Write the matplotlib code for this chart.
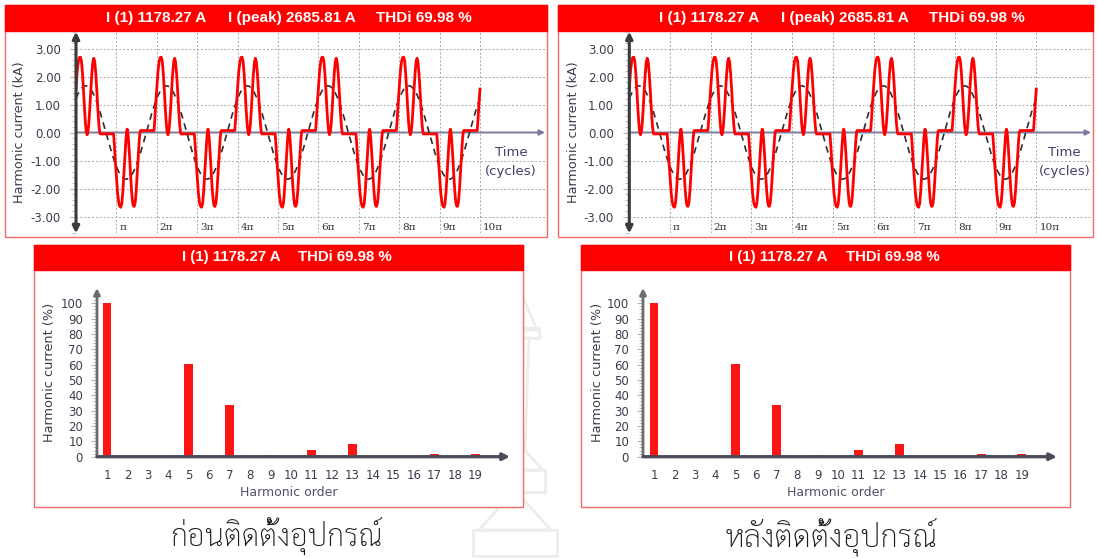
import numpy as np
import matplotlib
matplotlib.use("Agg")
import matplotlib.pyplot as plt
from matplotlib.patches import Rectangle, Polygon
from matplotlib.ticker import MultipleLocator, FixedLocator
from matplotlib import font_manager
from matplotlib.ft2font import FT2Font

# ---- measured values -------------------------------------------------------
I1_A = 1178.27          # fundamental RMS current (A)
IPEAK_A = 2685.81       # peak current (A)
THDI_PCT = 69.98        # total harmonic distortion of current (%)

# one cycle of the measured current waveform: phase (in units of pi) and kA
CYCLE_PHASE = [0.000, 0.030, 0.060, 0.085, 0.111, 0.135, 0.160, 0.185, 0.210,
               0.235, 0.255, 0.276, 0.297, 0.317, 0.342, 0.367, 0.392, 0.417,
               0.441, 0.465, 0.490, 0.515, 0.540, 0.565, 0.585, 0.598, 0.930,
               0.950, 0.975, 1.000, 1.030, 1.060, 1.085, 1.110, 1.135, 1.160,
               1.185, 1.210, 1.235, 1.255, 1.267, 1.280, 1.300, 1.325, 1.350,
               1.375, 1.400, 1.420, 1.440, 1.465, 1.490, 1.515, 1.540, 1.565,
               1.585, 1.598, 1.930, 1.950, 1.975]
CYCLE_KA = [1.55, 2.20, 2.55, 2.68, 2.69, 2.55, 2.12, 1.53, 0.86,
            0.31, 0.03, -0.08, 0.03, 0.31, 0.86, 1.52, 2.10, 2.52,
            2.65, 2.52, 2.10, 1.52, 0.86, 0.31, 0.03, -0.05, -0.05,
            -0.45, -1.05, -1.55, -2.18, -2.52, -2.64, -2.67, -2.53, -2.10,
            -1.50, -0.84, -0.28, 0.05, 0.12, 0.05, -0.28, -0.84, -1.50,
            -2.08, -2.48, -2.62, -2.64, -2.50, -2.08, -1.48, -0.82, -0.28,
            0.02, 0.07, 0.07, 0.45, 1.05]
N_CYCLES = 5
FUND_PHASE = 0.24       # phase of the fundamental's crest (units of pi)

Y_TICKS_KA = [-3, -2, -1, 0, 1, 2, 3]
PI_LABELS = ["\u03c0", "2\u03c0", "3\u03c0", "4\u03c0", "5\u03c0",
             "6\u03c0", "7\u03c0", "8\u03c0", "9\u03c0", "10\u03c0"]

# harmonic spectrum (% of fundamental)
ORDERS = list(range(1, 20))
HARM_PCT = [100, 0, 0.5, 0, 60.7, 0, 33.4, 0, 1.1, 0,
            4.4, 0, 8.3, 0, 0.6, 0, 1.5, 0, 2.0]

CAPTIONS = ["ก่อนติดตั้งอุปกรณ์", "หลังติดตั้งอุปกรณ์"]

# ---- fonts -----------------------------------------------------------------
def font_with_char(ch):
    names = []
    for f in font_manager.fontManager.ttflist:
        try:
            if ord(ch) in FT2Font(f.fname).get_charmap():
                names.append(f.name)
        except Exception:
            pass
    return sorted(set(names))

thai_fonts = font_with_char("ก")
THAI_PREF = ["Sarabun", "TH Sarabun New", "Noto Sans Thai Looped", "Loma",
             "Garuda", "Tlwg Typo"]
thai_name = next((n for n in THAI_PREF if n in thai_fonts),
                 thai_fonts[0] if thai_fonts else "DejaVu Sans")
THAI_FAMILY = [thai_name, "DejaVu Sans"]

plt.rcParams["font.family"] = ["DejaVu Sans"]

RED = "#ff0000"
BORDER = "#f26a6a"
TXT = "#3c3c4c"
GRID = "#a8a8a8"

W, H = 1098, 559
fig = plt.figure(figsize=(W / 100, H / 100), dpi=100)
bg = fig.add_axes([0, 0, 1, 1])
bg.set_xlim(0, W)
bg.set_ylim(H, 0)
bg.axis("off")


def px_axes(x0, y0, x1, y1):
    a = fig.add_axes([x0 / W, 1 - y1 / H, (x1 - x0) / W, (y1 - y0) / H])
    a.patch.set_alpha(0)
    for s in a.spines.values():
        s.set_visible(False)
    return a


def panel_frame(x0, y0, x1, y1, head_h, pieces, head_y, size):
    bg.add_patch(Rectangle((x0, y0), x1 - x0, y1 - y0, facecolor="white",
                           edgecolor=BORDER, lw=1.0, zorder=1))
    bg.add_patch(Rectangle((x0, y0), x1 - x0, head_h, facecolor=RED,
                           edgecolor=RED, lw=1.0, zorder=2))
    for cx, s in pieces:
        bg.text(cx, head_y, s, ha="center", va="center", color="white",
                fontsize=size, fontweight="bold", family="Liberation Sans",
                zorder=3)


def wave_panel(box, axis_x, px_pi, right_x, pieces, ylab_x):
    x0, y0, x1, y1 = box
    panel_frame(x0, y0, x1, y1, 25.5, pieces, 18, 11)
    ax = px_axes(axis_x, 31.7, right_x, 233.3)
    ax.set_xlim(0, (right_x - axis_x) / px_pi)
    ax.set_ylim(-3.6, 3.6)
    for k in range(1, 11):
        ax.axvline(k, color=GRID, lw=0.7, ls=(0, (2, 2)), zorder=1)
    for v in Y_TICKS_KA:
        if v != 0:
            ax.axhline(v, color=GRID, lw=0.7, ls=(0, (2, 2)), zorder=1)
    ax.set_xticks([])
    ax.set_yticks(Y_TICKS_KA)
    ax.set_yticklabels([f"{v:.2f}" for v in Y_TICKS_KA])
    ax.yaxis.set_minor_locator(MultipleLocator(0.2))
    ax.tick_params(axis="y", which="both", direction="out", color="#b4b4b4",
                   labelcolor=TXT, labelsize=8.5, pad=7)
    ax.tick_params(axis="y", which="major", length=4)
    ax.tick_params(axis="y", which="minor", length=3)

    # axes with arrows
    ax.annotate("", xy=(1.0, 0), xytext=(0, 0),
                xycoords=("axes fraction", "data"),
                textcoords=("axes fraction", "data"),
                arrowprops=dict(arrowstyle="-|>", color="#7a7a9c", lw=1.4,
                                mutation_scale=8, shrinkA=0, shrinkB=0),
                zorder=2)
    ax.annotate("", xy=(0, 1), xytext=(0, 0), xycoords="axes fraction",
                arrowprops=dict(arrowstyle="<|-|>", color="#3a3a3a", lw=2.2,
                                mutation_scale=10, shrinkA=0, shrinkB=0),
                zorder=5)

    # waveform: measured cycle repeated over the record
    ph = np.array(CYCLE_PHASE)
    xs = np.concatenate([ph + 2 * k for k in range(N_CYCLES)] + [[2.0 * N_CYCLES]])
    ys = np.concatenate([CYCLE_KA] * N_CYCLES + [[CYCLE_KA[0]]])
    # fundamental component, crest = sqrt(2) * I(1)
    xf = np.linspace(0, 2.0 * N_CYCLES, 1001)
    yf = np.sqrt(2) * I1_A / 1000 * np.cos(np.pi * (xf - FUND_PHASE))
    ax.plot(xf, yf, color="#2e2e2e", lw=1.2, dashes=(4, 3), zorder=3)
    ax.plot(xs, ys, color="#ff0000", lw=2.0, zorder=4, solid_joinstyle="round")

    for k, lab in enumerate(PI_LABELS, start=1):
        ax.text(k + 3 / px_pi, -3.38, lab, ha="left", va="center",
                family="DejaVu Serif", fontsize=7.5, color="#303030")
    tx = (511 - 76) / px_pi
    ax.text(tx, -0.73, "Time", ha="center", va="center", fontsize=9.5,
            color="#40406a")
    ax.text(tx, -1.41, "(cycles)", ha="center", va="center", fontsize=9.5,
            color="#40406a")
    bg.text(ylab_x, 132.5, "Harmonic current (kA)", rotation=90, ha="center",
            va="center", fontsize=9.2, color=TXT, zorder=3)


def spectrum_panel(box, axis_x, cat1_x, spacing, tip_x, pieces, ylab_x, xlab_x):
    x0, y0, x1, y1 = box
    panel_frame(x0, y0, x1, y1, 24.5, pieces, 257, 10.8)
    ax = px_axes(axis_x, 288, tip_x, 456.7)
    ax.set_xlim(1 - (cat1_x - axis_x) / spacing, 1 + (tip_x - cat1_x) / spacing)
    ax.set_ylim(0, 110)
    ax.bar(ORDERS, HARM_PCT, width=0.44, color="#ff1414", zorder=3)
    ax.set_yticks(range(0, 101, 10))
    ax.yaxis.set_minor_locator(FixedLocator(np.arange(0, 105, 2)))
    ax.set_xticks(ORDERS)
    ax.set_xticklabels([str(o) for o in ORDERS])
    ax.tick_params(axis="x", length=0, pad=9, labelsize=8.5, labelcolor=TXT)
    ax.tick_params(axis="y", which="both", direction="out", color="#b4b4b4",
                   labelcolor=TXT, labelsize=8.5, pad=6)
    ax.tick_params(axis="y", which="major", length=4)
    ax.tick_params(axis="y", which="minor", length=3)
    ax.annotate("", xy=(0, 1), xytext=(0, 0), xycoords="axes fraction",
                arrowprops=dict(arrowstyle="-|>", color="#6c6c6c", lw=2.0,
                                mutation_scale=9, shrinkA=0, shrinkB=0),
                zorder=5)
    ax.annotate("", xy=(1, 0), xytext=(0, 0), xycoords="axes fraction",
                arrowprops=dict(arrowstyle="-|>", color="#4c4c5c", lw=2.4,
                                mutation_scale=10, shrinkA=0, shrinkB=0),
                zorder=5)
    bg.text(ylab_x, 372, "Harmonic current (%)", rotation=90, ha="center",
            va="center", fontsize=9.3, color=TXT, zorder=3)
    bg.text(xlab_x, 492, "Harmonic order", ha="center", va="center",
            fontsize=9, color="#50506a", zorder=3)


# faint emblem watermark between the lower panels
def emblem(cx):
    col = "#ededed"
    kw = dict(facecolor="none", edgecolor=col, lw=2.0, zorder=0.5)
    bg.add_patch(Polygon([[cx - 22, 330], [cx, 278], [cx + 22, 330]], closed=True, **kw))
    bg.add_patch(Rectangle((cx - 24, 328), 48, 10, **kw))
    bg.add_patch(Polygon([[cx - 14, 338], [cx - 10, 450], [cx + 10, 450], [cx + 14, 338]], closed=True, **kw))
    bg.add_patch(Polygon([[cx - 28, 470], [cx, 440], [cx + 28, 470]], closed=True, **kw))
    bg.add_patch(Rectangle((cx - 30, 470), 60, 22, **kw))
    bg.add_patch(Polygon([[cx - 36, 530], [cx, 490], [cx + 36, 530]], closed=True, **kw))
    bg.add_patch(Rectangle((cx - 42, 530), 84, 26, **kw))


emblem(515)

wave_panel((5, 5, 547, 237), 76, 40.4, 545,
           [(156.5, f"I (1) {I1_A:.2f} A"), (292, f"I (peak) {IPEAK_A:.2f} A"),
            (424, f"THDi {THDI_PCT:.2f} %")], 20)
wave_panel((558, 5, 1093, 237), 629.3, 40.7, 1091,
           [(709.5, f"I (1) {I1_A:.2f} A"), (845, f"I (peak) {IPEAK_A:.2f} A"),
            (977, f"THDi {THDI_PCT:.2f} %")], 573)

spectrum_panel((34, 245, 523, 507), 97, 107, 20.45, 510,
               [(231, f"I (1) {I1_A:.2f} A"), (345, f"THDi {THDI_PCT:.2f} %")],
               50, 289)
spectrum_panel((581, 245, 1070, 507), 643, 654, 20.44, 1057,
               [(778, f"I (1) {I1_A:.2f} A"), (892.5, f"THDi {THDI_PCT:.2f} %")],
               597, 836)

# captions sized to a fixed rendered width
renderer = fig.canvas.get_renderer()
for cx, cap in zip([277, 831], CAPTIONS):
    t = bg.text(cx, 547, cap, ha="center", va="baseline", fontsize=22,
                family=THAI_FAMILY, fontweight="light", color="#1a1a1a", zorder=3)
    w = t.get_window_extent(renderer).width
    t.set_fontsize(22 * 213 / w)

fig.savefig("out.png", dpi=100)
